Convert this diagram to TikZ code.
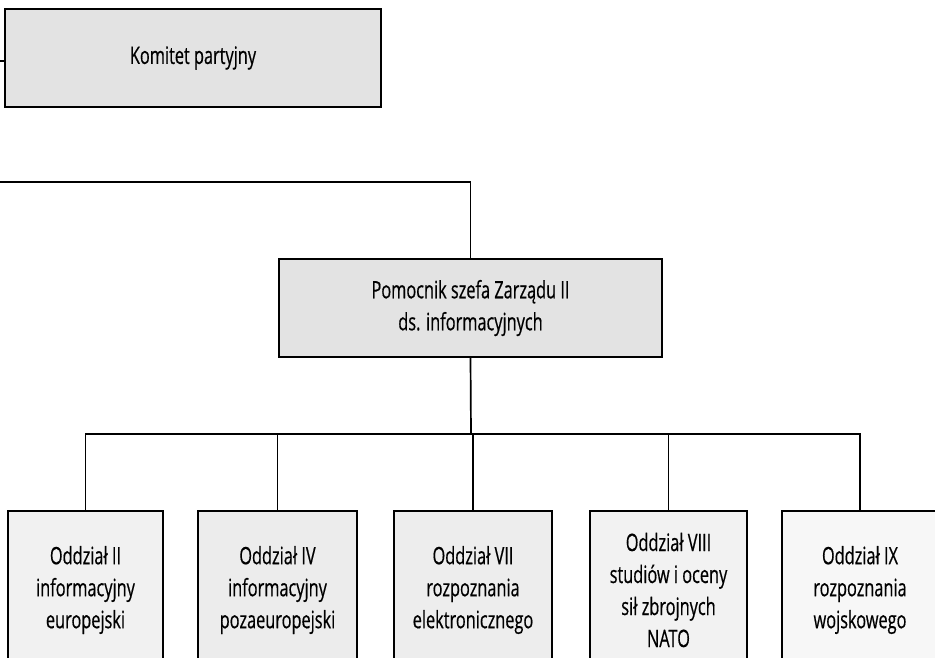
\documentclass[tikz,border=0pt]{standalone}
\usepackage{fontspec}
\setmainfont[FakeStretch=0.68, FakeBold=0.5]{Open Sans}
\begin{document}
\begin{tikzpicture}[x=1pt, y={(0pt,-1pt)},
  box/.style={draw=black, line width=2pt, align=center, inner sep=0pt,
    font=\fontsize{24}{32}\selectfont},
  upper/.style={box, fill=gray!22},
  unit/.style={box, minimum width=155pt, minimum height=158pt},
  link/.style={draw=black, line width=1.7pt}]
\useasboundingbox (0,0) rectangle (935,657);
\clip (0,0) rectangle (935,657);

% upper level
\node[upper, minimum width=376pt, minimum height=98pt] (komitet) at (193,58) {Komitet partyjny};
\node[upper, minimum width=383pt, minimum height=98pt] (pomocnik) at (470.5,308)
  {Pomocnik szefa Zarządu II\\ds. informacyjnych};

% departments (lower edges run past the sheet)
\node[unit, fill=gray!11] (o2) at (85.5,590) {Oddział II\\informacyjny\\europejski};
\node[unit, fill=gray!15, minimum width=159pt] (o4) at (277.5,590) {Oddział IV\\informacyjny\\pozaeuropejski};
\node[unit, fill=gray!14, minimum width=158pt] (o7) at (473,590) {Oddział VII\\rozpoznania\\elektronicznego};
\node[unit, fill=gray!10, minimum width=157pt] (o8) at (668.5,590) {Oddział VIII\\studiów i oceny\\sił zbrojnych\\NATO};
\node[unit, fill=gray!6, minimum width=156pt] (o9) at (860,590) {Oddział IX\\rozpoznania\\wojskowego};

% free ends and bus
\coordinate (kin) at (0,61);
\coordinate (top) at (0,182);
\coordinate (bus) at (471,434);

\draw[link] (kin) -- (komitet.west |- kin);
\draw[link] (top) -| (pomocnik.north);
\draw[link] (pomocnik.south) -- (bus);
\draw[link] (o2.north) |- (bus) -| (o9.north);
\draw[link] (o4.north) -- (o4.north |- bus);
\draw[link] (o7.north) -- (o7.north |- bus);
\draw[link] (o8.north) -- (o8.north |- bus);
\end{tikzpicture}
\end{document}
